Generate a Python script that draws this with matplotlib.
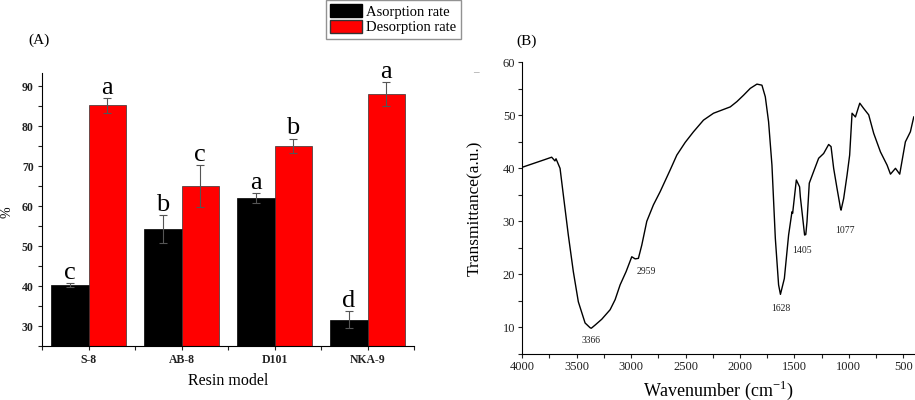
import numpy as np
import matplotlib.pyplot as plt
from matplotlib.ticker import MultipleLocator
from matplotlib.patches import Patch

plt.rcParams['font.family'] = ['Liberation Serif', 'DejaVu Serif']
plt.rcParams['mathtext.fontset'] = 'custom'
plt.rcParams['mathtext.rm'] = 'Liberation Serif'

# (A) Adsorption / Desorption je Harz
resins = ['S-8', 'AB-8', 'D101', 'NKA-9']
adsorption = [40.2, 54.3, 62.1, 31.6]
adsorption_err = [0.5, 3.5, 1.2, 2.2]
desorption = [85.2, 65.1, 75.1, 88.0]
desorption_err = [1.9, 5.2, 1.8, 3.0]
letters_ads = ['c', 'b', 'a', 'd']
letters_des = ['a', 'c', 'b', 'a']

# (B) FTIR-Spektrum
wavenumber = [4000, 3900, 3800, 3730, 3700, 3690, 3653, 3623, 3577, 3531, 3485,
              3423, 3377, 3366, 3331, 3270, 3193, 3147, 3101, 3046, 2994, 2963,
              2933, 2902, 2856, 2795, 2733, 2641, 2580, 2503, 2427, 2335, 2243,
              2089, 2028, 1967, 1905, 1844, 1798,
              1767, 1737, 1706, 1675, 1645, 1628, 1592, 1553, 1522, 1516, 1482,
              1452, 1445, 1420, 1406, 1395, 1384, 1363, 1323, 1277, 1231, 1185,
              1163, 1139, 1108, 1085, 1077, 1071, 1047, 1016, 992, 970, 939, 899,
              863, 817, 771, 709, 648, 617, 571, 532, 480, 434, 403]
transmittance = [40.2, 40.9, 41.6, 42.1, 41.4, 41.8, 40.0, 35.0, 27.4, 20.5, 14.8,
                 10.8, 9.9, 9.8, 10.4, 11.5, 13.3, 15.2, 18.0, 20.5, 23.3, 22.9,
                 23.0, 25.5, 30.0, 33.1, 35.6, 39.7, 42.5, 44.9, 46.9, 49.1, 50.4,
                 51.6, 52.6, 53.8, 55.1, 55.9, 55.7,
                 53.5, 48.8, 40.6, 26.8, 18.0, 16.2, 19.2, 27.4, 31.8, 31.5, 37.8,
                 36.5, 34.6, 30.0, 27.4, 27.5, 29.9, 37.2, 39.4, 41.9, 42.8, 44.5,
                 44.1, 40.0, 36.2, 33.5, 32.5, 32.1, 34.3, 38.7, 42.5, 50.4, 49.7, 52.3,
                 51.3, 50.1, 46.6, 43.1, 40.6, 38.9, 40.0, 38.9, 45.0, 46.9, 49.7]
peaks = [3366, 2959, 1628, 1405, 1077]

fig = plt.figure(figsize=(9.15, 4.0), dpi=100)

# ---------- (A) ----------
ax1 = fig.add_axes([0.0459, 0.135, 0.4066, 0.6825])
x = np.arange(1, len(resins) + 1)
w = 0.4
err_style = dict(ecolor='#555555', elinewidth=0.8, capsize=3, capthick=0.8)
ax1.bar(x - w / 2, adsorption, w, yerr=adsorption_err, color='black',
        edgecolor='black', linewidth=0.5, error_kw=err_style, zorder=2)
ax1.bar(x + w / 2, desorption, w, yerr=desorption_err, color='#ff0000',
        edgecolor='#333333', linewidth=0.5, error_kw=err_style, zorder=2)

for i in range(len(resins)):
    ax1.annotate(letters_ads[i], (x[i] - w / 2, adsorption[i] + adsorption_err[i]),
                 xytext=(0, 3), textcoords='offset points', ha='center',
                 va='baseline', fontsize=19)
    ax1.annotate(letters_des[i], (x[i] + w / 2, desorption[i] + desorption_err[i]),
                 xytext=(0, 3), textcoords='offset points', ha='center',
                 va='baseline', fontsize=19)

ax1.set_xlim(0.5, len(resins) + 0.5)
ax1.set_ylim(25, 93.3)
ax1.set_xticks(x)
ax1.set_xticklabels(resins, fontweight='bold', fontsize=8.5)
ax1.xaxis.set_minor_locator(MultipleLocator(0.5))
ax1.yaxis.set_minor_locator(MultipleLocator(5))
ax1.set_yticks(np.arange(30, 91, 10))
for lbl in ax1.get_yticklabels():
    lbl.set_fontweight('bold')
    lbl.set_fontsize(8.5)
ax1.tick_params(which='both', direction='out', length=3, width=0.8,
                colors='#222222', pad=3)
ax1.spines['top'].set_visible(False)
ax1.spines['right'].set_visible(False)
ax1.set_xlabel('Resin model', fontsize=11.5, va='center')
ax1.xaxis.set_label_coords(0.5, -0.128)
ax1.set_ylabel('%', fontsize=10, va='center')
ax1.yaxis.set_label_coords(-0.094, 0.49)

# ---------- (B) ----------
ax2 = fig.add_axes([0.5708, 0.1158, 0.4282, 0.7282])
ax2.plot(wavenumber, transmittance, color='black', linewidth=1.0)
tx_offsets = [(0, -9), (8, -9), (0, -10), (-2, -11), (3, -16)]
for pk, (dx, dy) in zip(peaks, tx_offsets):
    yv = np.interp(-pk, [-v for v in wavenumber], transmittance)
    ax2.annotate(str(pk), (pk, yv), xytext=(dx, dy), textcoords='offset points',
                 ha='center', va='center', fontsize=7, color='#222222')
ax2.set_xlim(4000, 400)
ax2.set_ylim(5, 60)
ax2.xaxis.set_major_locator(MultipleLocator(500))
ax2.xaxis.set_minor_locator(MultipleLocator(250))
ax2.yaxis.set_minor_locator(MultipleLocator(5))
ax2.set_yticks(np.arange(10, 61, 10))
ax2.tick_params(which='both', direction='out', length=3, width=0.8,
                labelsize=9, colors='#222222', pad=2)
ax2.spines['top'].set_visible(False)
ax2.spines['right'].set_visible(False)
ax2.set_xlabel('Wavenumber (cm$^{\\mathregular{-1}}$)', fontsize=13, va='center')
ax2.xaxis.set_label_coords(0.5, -0.125)
ax2.set_ylabel('Transmittance(a.u.)', fontsize=12.5, va='center')
ax2.yaxis.set_label_coords(-0.121, 0.5)

# Beschriftungen
fig.text(28 / 915, 1 - 40 / 400, '(A)', fontsize=11, ha='left', va='center')
fig.text(516 / 915, 1 - 41 / 400, '(B)', fontsize=11, ha='left', va='center')
fig.text(476 / 915, 1 - 73 / 400, '–', fontsize=8, color='#888888',
         ha='center', va='center')

handles = [Patch(facecolor='black', edgecolor='black', label='Asorption rate'),
           Patch(facecolor='#ff0000', edgecolor='#333333', label='Desorption rate')]
fig.legend(handles=handles, loc='upper left', bbox_to_anchor=(326 / 915, 1.0),
           fontsize=10.5, frameon=True, fancybox=False, edgecolor='#777777',
           handlelength=2.2, handleheight=1.0, labelspacing=0.05,
           handletextpad=0.25, borderpad=0.3, borderaxespad=0.0)

fig.savefig('out.png', dpi=100)
